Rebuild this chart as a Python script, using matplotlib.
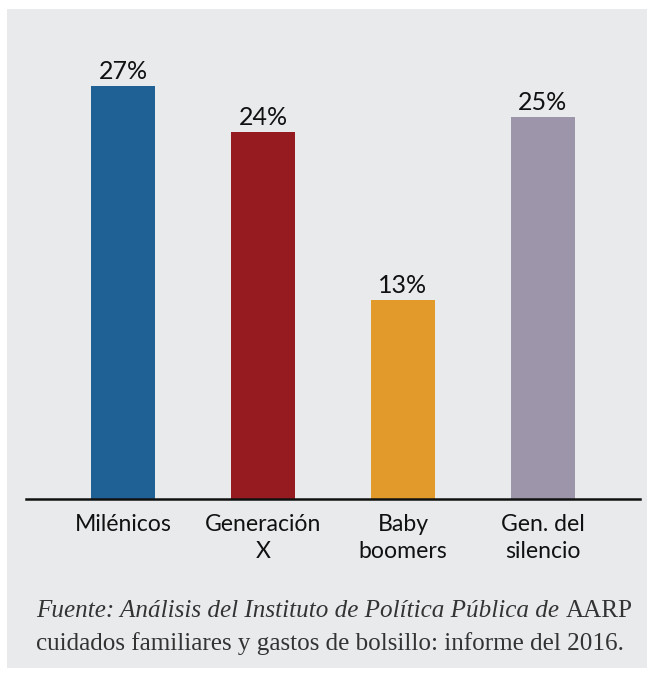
import matplotlib.pyplot as plt
from matplotlib.patches import Rectangle

categories = ["Milénicos", "Generación\nX", "Baby\nboomers", "Gen. del\nsilencio"]
values = [27, 24, 13, 25]
colors = ["#1F6194", "#951B21", "#E29A2A", "#9D95A9"]

W, H = 655, 675
fig = plt.figure(figsize=(W / 100, H / 100), dpi=100)
fig.patch.set_facecolor("white")

# gray panel behind everything
fig.patches.append(Rectangle((7 / W, 1 - 668 / H), 640 / W, 659 / H,
                             transform=fig.transFigure, facecolor="#E9EAEC",
                             edgecolor="none", zorder=-5))

# axes: x from 26 to 640 px, baseline at y=499
ax_bottom = 1 - 499 / H
ax_top = 1 - 20 / H
ax = fig.add_axes([26 / W, ax_bottom, 614 / W, ax_top - ax_bottom])
ax.set_facecolor("none")
ax.set_zorder(2)

x = list(range(len(categories)))
bars = ax.bar(x, values, width=0.457, color=colors)
ax.set_xlim(-0.693, 3.693)
ax.set_ylim(0, 479 / 15.3)

for b, v in zip(bars, values):
    ax.annotate(f"{v}%", (b.get_x() + b.get_width() / 2, v), xytext=(0, 2),
                textcoords="offset points", ha="center", va="bottom",
                fontsize=18, family="Lato", color="#111111")

ax.set_xticks(x)
ax.set_xticklabels(categories, fontsize=16.6, family="Lato", color="#111111",
                   linespacing=1.36)
ax.tick_params(axis="x", length=0, pad=10.5)
ax.set_yticks([])
for s in ["top", "left", "right"]:
    ax.spines[s].set_visible(False)
ax.spines["bottom"].set_linewidth(1.8)
ax.spines["bottom"].set_color("#111111")

# caption
cap_color = "#333333"
cap_size = 18.1
t1 = fig.text(36 / W, 1 - 611 / H, "Fuente: Análisis del Instituto de Política Pública de ",
              family="Liberation Serif", style="italic", fontsize=cap_size,
              color=cap_color, va="center", ha="left")
fig.canvas.draw()
bb = t1.get_window_extent()
fig.text(bb.x1 / W, 1 - 611 / H, "AARP", family="Liberation Serif", fontsize=cap_size,
         color=cap_color, va="center", ha="left")
fig.text(36 / W, 1 - 644 / H, "cuidados familiares y gastos de bolsillo: informe del 2016.",
         family="Liberation Serif", fontsize=cap_size, color=cap_color,
         va="center", ha="left")

fig.savefig("out.png", dpi=100)
